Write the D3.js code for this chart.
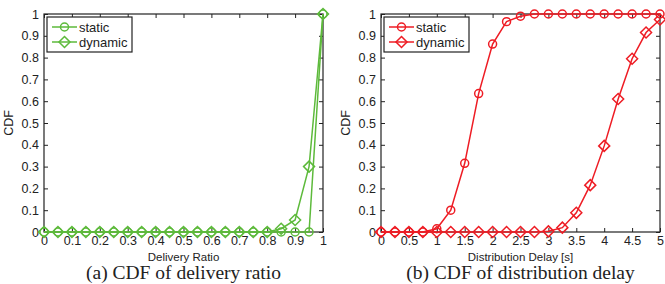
<!DOCTYPE html>
<html lang="en">
<head>
<meta charset="UTF-8">
<title>CDF charts</title>
<script src="https://d3js.org/d3.v7.min.js"></script>
<style>
  body { margin: 0; background: #fff; }
  svg text { font-family: "Liberation Sans", Arial, sans-serif; fill: #222; }
  .cap { font-family: "Liberation Serif", "Times New Roman", serif; font-size: 19.5px; }
</style>
</head>
<body>
<svg id="chart" width="665" height="284"></svg>
<script>
// delivery ratio panel
const ratioX = d3.range(0, 21).map(i => i * 0.05);
const ratioStatic = [0,0,0,0,0,0,0,0,0,0,0,0,0,0,0,0,0,0,0,0,1];
const ratioDynamic = [0,0,0,0,0,0,0,0,0,0,0,0,0,0,0,0,0,0.015,0.055,0.30,1];
const ratioTicks = d3.range(0, 11).map(i => i / 10);

// distribution delay panel
const delayX = d3.range(0, 21).map(i => i * 0.25);
const delayStatic = [0,0,0,0,0.015,0.10,0.315,0.635,0.862,0.965,0.99,1,1,1,1,1,1,1,1,1,1];
const delayDynamic = [0,0,0,0,0,0,0,0,0,0,0,0,0.003,0.02,0.088,0.215,0.395,0.61,0.795,0.915,0.975];
const delayTicks = d3.range(0, 11).map(i => i / 2);

const yTicks = d3.range(0, 11).map(i => i / 10);
const fmt = d => d3.format("")(+d.toFixed(2));

const svg = d3.select("#chart");

function panel(opt) {
  const x = d3.scaleLinear().domain(opt.domain).range([opt.left, opt.right]);
  const y = d3.scaleLinear().domain([0, 1]).range([232, 14]);
  const g = svg.append("g");

  // inward ticks on all four sides
  g.append("g").attr("transform", "translate(0,232)")
    .call(d3.axisBottom(x).tickValues(opt.ticks).tickSize(-4).tickPadding(4).tickFormat(fmt))
    .call(a => a.select(".domain").remove());
  g.append("g").attr("transform", "translate(0,14)")
    .call(d3.axisTop(x).tickValues(opt.ticks).tickSize(-4).tickFormat(""))
    .call(a => a.select(".domain").remove());
  g.append("g").attr("transform", `translate(${opt.left},0)`)
    .call(d3.axisLeft(y).tickValues(yTicks).tickSize(-4).tickPadding(5).tickFormat(fmt))
    .call(a => a.select(".domain").remove());
  g.append("g").attr("transform", `translate(${opt.right},0)`)
    .call(d3.axisRight(y).tickValues(yTicks).tickSize(-4).tickFormat(""))
    .call(a => a.select(".domain").remove());
  g.selectAll(".tick line").attr("stroke", "#222");
  g.selectAll(".tick text").attr("font-size", 12.5).attr("fill", "#222");

  g.append("rect").attr("x", opt.left).attr("y", 14)
    .attr("width", opt.right - opt.left).attr("height", 218)
    .attr("fill", "none").attr("stroke", "#222").attr("stroke-width", 1.2);

  const line = d3.line().x(d => x(d[0])).y(d => y(d[1]));
  const series = [
    { vals: opt.dyn, shape: "diamond" },
    { vals: opt.stat, shape: "circle" }
  ];
  series.forEach(s => {
    const pts = opt.xs.map((v, i) => [v, s.vals[i]]);
    g.append("path").attr("d", line(pts)).attr("fill", "none")
      .attr("stroke", opt.color).attr("stroke-width", 1.5);
    g.selectAll(null).data(pts).enter().append("path")
      .attr("transform", d => `translate(${x(d[0])},${y(d[1])})`)
      .attr("d", marker(s.shape))
      .attr("fill", "none").attr("stroke", opt.color).attr("stroke-width", 1.5);
  });

  // legend
  const lg = g.append("g").attr("transform", `translate(${opt.left + 3},17)`);
  lg.append("rect").attr("width", 85).attr("height", 35)
    .attr("fill", "#fff").attr("stroke", "#222").attr("stroke-width", 1.2);
  [["static", "circle", 10], ["dynamic", "diamond", 25]].forEach(([name, shape, yy]) => {
    lg.append("line").attr("x1", 5).attr("x2", 30).attr("y1", yy).attr("y2", yy)
      .attr("stroke", opt.color).attr("stroke-width", 1.5);
    lg.append("path").attr("transform", `translate(17.5,${yy})`).attr("d", marker(shape))
      .attr("fill", "none").attr("stroke", opt.color).attr("stroke-width", 1.5);
    lg.append("text").attr("x", 32).attr("y", yy + 4.5).attr("font-size", 13).text(name);
  });

  const mid = (opt.left + opt.right) / 2;
  g.append("text").attr("x", mid).attr("y", 261).attr("text-anchor", "middle")
    .attr("font-size", 11.5).text(opt.xlabel);
  g.append("text").attr("transform", `translate(${opt.left - 31},123) rotate(-90)`)
    .attr("text-anchor", "middle").attr("font-size", 12.5).text("CDF");
  g.append("text").attr("class", "cap").attr("x", mid).attr("y", 279)
    .attr("text-anchor", "middle").text(opt.caption);
}

function marker(shape) {
  if (shape === "circle") return d3.symbol(d3.symbolCircle, 50)();
  const r = 5.5;
  return `M0,${-r}L${r},0L0,${r}L${-r},0Z`;
}

panel({
  left: 44, right: 323, domain: [0, 1], ticks: ratioTicks,
  xs: ratioX, stat: ratioStatic, dyn: ratioDynamic, color: "#5dba3b",
  xlabel: "Delivery Ratio", caption: "(a)  CDF of delivery ratio"
});
panel({
  left: 381, right: 660, domain: [0, 5], ticks: delayTicks,
  xs: delayX, stat: delayStatic, dyn: delayDynamic, color: "#ee1c24",
  xlabel: "Distribution Delay [s]", caption: "(b)  CDF of distribution delay"
});
</script>
</body>
</html>
